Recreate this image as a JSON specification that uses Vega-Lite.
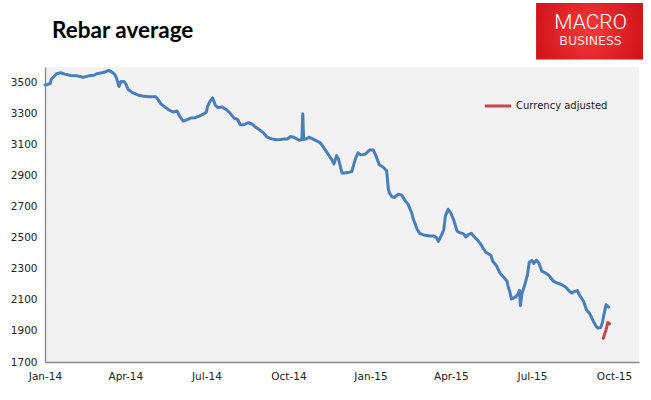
{
  "$schema": "https://vega.github.io/schema/vega-lite/v6.json",
  "width": 594,
  "height": 295,
  "autosize": {"type": "none"},
  "padding": {"left": 45, "top": 67, "right": 12, "bottom": 38},
  "background": "white",
  "title": {"text": "Rebar average", "anchor": "start", "frame": "group", "font": "Lato", "fontSize": 22.5, "fontWeight": "bold", "color": "#000000", "dx": 7, "offset": -57, "baseline": "alphabetic"},
  "config": {
    "view": {"fill": "#F2F2F2", "stroke": null},
    "axis": {"labelFont": "DejaVu Sans", "labelFontSize": 10.5, "labelColor": "#222222", "domainColor": "#888888", "domainWidth": 1.3, "ticks": false, "grid": false, "title": null, "labelOverlap": false, "labelFlush": false}
  },
  "datasets": {
    "rebar": [
      {"date": "2014-01-01", "price": 3485},
      {"date": "2014-01-04", "price": 3488},
      {"date": "2014-01-07", "price": 3495},
      {"date": "2014-01-08", "price": 3521},
      {"date": "2014-01-14", "price": 3556},
      {"date": "2014-01-19", "price": 3563},
      {"date": "2014-01-23", "price": 3554},
      {"date": "2014-01-30", "price": 3545},
      {"date": "2014-02-06", "price": 3543},
      {"date": "2014-02-13", "price": 3534},
      {"date": "2014-02-19", "price": 3543},
      {"date": "2014-02-25", "price": 3547},
      {"date": "2014-02-28", "price": 3556},
      {"date": "2014-03-06", "price": 3563},
      {"date": "2014-03-10", "price": 3569},
      {"date": "2014-03-13", "price": 3578},
      {"date": "2014-03-16", "price": 3571},
      {"date": "2014-03-20", "price": 3554},
      {"date": "2014-03-22", "price": 3532},
      {"date": "2014-03-25", "price": 3474},
      {"date": "2014-03-27", "price": 3506},
      {"date": "2014-03-31", "price": 3505},
      {"date": "2014-04-02", "price": 3487},
      {"date": "2014-04-04", "price": 3457},
      {"date": "2014-04-09", "price": 3435},
      {"date": "2014-04-15", "price": 3420},
      {"date": "2014-04-22", "price": 3411},
      {"date": "2014-04-28", "price": 3409},
      {"date": "2014-05-05", "price": 3409},
      {"date": "2014-05-08", "price": 3388},
      {"date": "2014-05-11", "price": 3362},
      {"date": "2014-05-15", "price": 3345},
      {"date": "2014-05-20", "price": 3323},
      {"date": "2014-05-25", "price": 3310},
      {"date": "2014-05-29", "price": 3317},
      {"date": "2014-06-01", "price": 3284},
      {"date": "2014-06-05", "price": 3252},
      {"date": "2014-06-09", "price": 3260},
      {"date": "2014-06-13", "price": 3271},
      {"date": "2014-06-18", "price": 3273},
      {"date": "2014-06-23", "price": 3284},
      {"date": "2014-06-29", "price": 3301},
      {"date": "2014-07-01", "price": 3310},
      {"date": "2014-07-02", "price": 3343},
      {"date": "2014-07-05", "price": 3379},
      {"date": "2014-07-08", "price": 3401},
      {"date": "2014-07-11", "price": 3353},
      {"date": "2014-07-14", "price": 3338},
      {"date": "2014-07-18", "price": 3343},
      {"date": "2014-07-23", "price": 3327},
      {"date": "2014-07-27", "price": 3306},
      {"date": "2014-08-01", "price": 3271},
      {"date": "2014-08-05", "price": 3262},
      {"date": "2014-08-08", "price": 3228},
      {"date": "2014-08-12", "price": 3228},
      {"date": "2014-08-17", "price": 3241},
      {"date": "2014-08-21", "price": 3233},
      {"date": "2014-08-25", "price": 3213},
      {"date": "2014-08-29", "price": 3198},
      {"date": "2014-09-03", "price": 3176},
      {"date": "2014-09-07", "price": 3148},
      {"date": "2014-09-12", "price": 3137},
      {"date": "2014-09-17", "price": 3131},
      {"date": "2014-09-22", "price": 3133},
      {"date": "2014-09-27", "price": 3137},
      {"date": "2014-09-30", "price": 3137},
      {"date": "2014-10-03", "price": 3152},
      {"date": "2014-10-07", "price": 3148},
      {"date": "2014-10-13", "price": 3128},
      {"date": "2014-10-16", "price": 3133},
      {"date": "2014-10-17", "price": 3299},
      {"date": "2014-10-18", "price": 3133},
      {"date": "2014-10-21", "price": 3137},
      {"date": "2014-10-24", "price": 3148},
      {"date": "2014-10-28", "price": 3137},
      {"date": "2014-11-02", "price": 3123},
      {"date": "2014-11-06", "price": 3110},
      {"date": "2014-11-11", "price": 3068},
      {"date": "2014-11-16", "price": 3025},
      {"date": "2014-11-19", "price": 3001},
      {"date": "2014-11-21", "price": 2976},
      {"date": "2014-11-24", "price": 3029},
      {"date": "2014-11-26", "price": 3008},
      {"date": "2014-11-30", "price": 2917},
      {"date": "2014-12-03", "price": 2917},
      {"date": "2014-12-08", "price": 2922},
      {"date": "2014-12-11", "price": 2926},
      {"date": "2014-12-15", "price": 3008},
      {"date": "2014-12-18", "price": 3047},
      {"date": "2014-12-21", "price": 3034},
      {"date": "2014-12-26", "price": 3038},
      {"date": "2014-12-31", "price": 3066},
      {"date": "2015-01-04", "price": 3066},
      {"date": "2015-01-07", "price": 3029},
      {"date": "2015-01-11", "price": 2969},
      {"date": "2015-01-15", "price": 2956},
      {"date": "2015-01-19", "price": 2932},
      {"date": "2015-01-21", "price": 2814},
      {"date": "2015-01-22", "price": 2792},
      {"date": "2015-01-25", "price": 2764},
      {"date": "2015-01-28", "price": 2760},
      {"date": "2015-02-01", "price": 2781},
      {"date": "2015-02-05", "price": 2775},
      {"date": "2015-02-09", "price": 2738},
      {"date": "2015-02-12", "price": 2717},
      {"date": "2015-02-16", "price": 2663},
      {"date": "2015-02-18", "price": 2619},
      {"date": "2015-02-22", "price": 2559},
      {"date": "2015-02-25", "price": 2529},
      {"date": "2015-03-03", "price": 2516},
      {"date": "2015-03-09", "price": 2511},
      {"date": "2015-03-13", "price": 2511},
      {"date": "2015-03-16", "price": 2501},
      {"date": "2015-03-18", "price": 2477},
      {"date": "2015-03-21", "price": 2511},
      {"date": "2015-03-24", "price": 2550},
      {"date": "2015-03-26", "price": 2641},
      {"date": "2015-03-29", "price": 2684},
      {"date": "2015-04-01", "price": 2658},
      {"date": "2015-04-04", "price": 2619},
      {"date": "2015-04-08", "price": 2544},
      {"date": "2015-04-11", "price": 2533},
      {"date": "2015-04-15", "price": 2527},
      {"date": "2015-04-18", "price": 2505},
      {"date": "2015-04-21", "price": 2522},
      {"date": "2015-04-24", "price": 2529},
      {"date": "2015-04-28", "price": 2501},
      {"date": "2015-05-01", "price": 2485},
      {"date": "2015-05-04", "price": 2464},
      {"date": "2015-05-07", "price": 2436},
      {"date": "2015-05-10", "price": 2408},
      {"date": "2015-05-16", "price": 2386},
      {"date": "2015-05-18", "price": 2349},
      {"date": "2015-05-22", "price": 2322},
      {"date": "2015-05-26", "price": 2274},
      {"date": "2015-05-30", "price": 2248},
      {"date": "2015-06-03", "price": 2220},
      {"date": "2015-06-04", "price": 2192},
      {"date": "2015-06-06", "price": 2155},
      {"date": "2015-06-08", "price": 2106},
      {"date": "2015-06-12", "price": 2116},
      {"date": "2015-06-15", "price": 2134},
      {"date": "2015-06-17", "price": 2162},
      {"date": "2015-06-18", "price": 2063},
      {"date": "2015-06-20", "price": 2145},
      {"date": "2015-06-23", "price": 2199},
      {"date": "2015-06-26", "price": 2263},
      {"date": "2015-06-28", "price": 2343},
      {"date": "2015-07-01", "price": 2354},
      {"date": "2015-07-03", "price": 2335},
      {"date": "2015-07-06", "price": 2356},
      {"date": "2015-07-09", "price": 2335},
      {"date": "2015-07-12", "price": 2285},
      {"date": "2015-07-16", "price": 2274},
      {"date": "2015-07-20", "price": 2257},
      {"date": "2015-07-25", "price": 2220},
      {"date": "2015-07-29", "price": 2210},
      {"date": "2015-08-03", "price": 2199},
      {"date": "2015-08-08", "price": 2181},
      {"date": "2015-08-12", "price": 2155},
      {"date": "2015-08-15", "price": 2145},
      {"date": "2015-08-18", "price": 2155},
      {"date": "2015-08-21", "price": 2160},
      {"date": "2015-08-23", "price": 2134},
      {"date": "2015-08-28", "price": 2090},
      {"date": "2015-08-31", "price": 2037},
      {"date": "2015-09-04", "price": 2009},
      {"date": "2015-09-08", "price": 1961},
      {"date": "2015-09-11", "price": 1929},
      {"date": "2015-09-13", "price": 1918},
      {"date": "2015-09-16", "price": 1922},
      {"date": "2015-09-18", "price": 1954},
      {"date": "2015-09-20", "price": 2015},
      {"date": "2015-09-22", "price": 2069},
      {"date": "2015-09-25", "price": 2054}
    ],
    "adjusted": [
      {"date": "2015-09-19", "price": 1853, "series": "Currency adjusted"},
      {"date": "2015-09-22", "price": 1907, "series": "Currency adjusted"},
      {"date": "2015-09-24", "price": 1954, "series": "Currency adjusted"},
      {"date": "2015-09-26", "price": 1946, "series": "Currency adjusted"}
    ],
    "logo": [
      {"line1": "MACRO", "line2": "BUSINESS"}
    ]
  },
  "layer": [
    {
      "data": {"name": "rebar"},
      "mark": {"type": "line", "color": "#4A7EBB", "strokeWidth": 3, "strokeJoin": "round", "strokeCap": "round"},
      "encoding": {
        "x": {
          "field": "date", "type": "temporal",
          "scale": {"domain": [{"year": 2014, "month": 1, "date": 1}, {"year": 2015, "month": 10, "date": 29}]},
          "axis": {
            "values": [
              {"year": 2014, "month": 1, "date": 1}, {"year": 2014, "month": 4, "date": 1},
              {"year": 2014, "month": 7, "date": 1}, {"year": 2014, "month": 10, "date": 1},
              {"year": 2015, "month": 1, "date": 1}, {"year": 2015, "month": 4, "date": 1},
              {"year": 2015, "month": 7, "date": 1}, {"year": 2015, "month": 10, "date": 1}
            ],
            "format": "%b-%y", "labelPadding": 9, "tickCount": 20
          }
        },
        "y": {
          "field": "price", "type": "quantitative",
          "scale": {"domain": [1700, 3600], "nice": false, "zero": false},
          "axis": {"values": [1700, 1900, 2100, 2300, 2500, 2700, 2900, 3100, 3300, 3500], "format": "d", "labelPadding": 8, "tickCount": 20}
        }
      }
    },
    {
      "data": {"name": "adjusted"},
      "mark": {"type": "line", "strokeWidth": 3, "strokeJoin": "round", "strokeCap": "round"},
      "encoding": {
        "x": {"field": "date", "type": "temporal"},
        "y": {"field": "price", "type": "quantitative"},
        "color": {
          "field": "series", "type": "nominal",
          "scale": {"domain": ["Currency adjusted"], "range": ["#BE4B48"]},
          "legend": {
            "title": null, "orient": "none", "legendX": 438, "legendY": 24,
            "symbolType": "stroke", "symbolSize": 700, "symbolStrokeWidth": 3,
            "labelFont": "DejaVu Sans", "labelFontSize": 10, "labelColor": "#222222", "labelOffset": 3
          }
        }
      }
    },
    {
      "data": {"name": "logo"},
      "mark": {"type": "rect", "color": {"gradient": "radial", "stops": [{"offset": 0, "color": "#F53A3B"}, {"offset": 1, "color": "#D1161C"}]}},
      "encoding": {
        "x": {"datum": {"year": 2015, "month": 7, "date": 5, "hours": 14}, "type": "temporal"},
        "x2": {"datum": {"year": 2015, "month": 11, "date": 2, "hours": 12}},
        "y": {"datum": 4012, "type": "quantitative"},
        "y2": {"datum": 3649}
      }
    },
    {
      "data": {"name": "logo"},
      "mark": {"type": "text", "color": "white", "font": "Roboto", "fontWeight": 300, "fontSize": 21, "align": "center", "baseline": "middle"},
      "encoding": {
        "text": {"field": "line1"},
        "x": {"datum": {"year": 2015, "month": 9, "date": 4, "hours": 17}, "type": "temporal"},
        "y": {"datum": 3885, "type": "quantitative"}
      }
    },
    {
      "data": {"name": "logo"},
      "mark": {"type": "text", "color": "#FBE0E0", "font": "DejaVu Sans", "fontSize": 12.5, "align": "center", "baseline": "middle"},
      "encoding": {
        "text": {"field": "line2"},
        "x": {"datum": {"year": 2015, "month": 9, "date": 4, "hours": 17}, "type": "temporal"},
        "y": {"datum": 3765, "type": "quantitative"}
      }
    }
  ]
}
